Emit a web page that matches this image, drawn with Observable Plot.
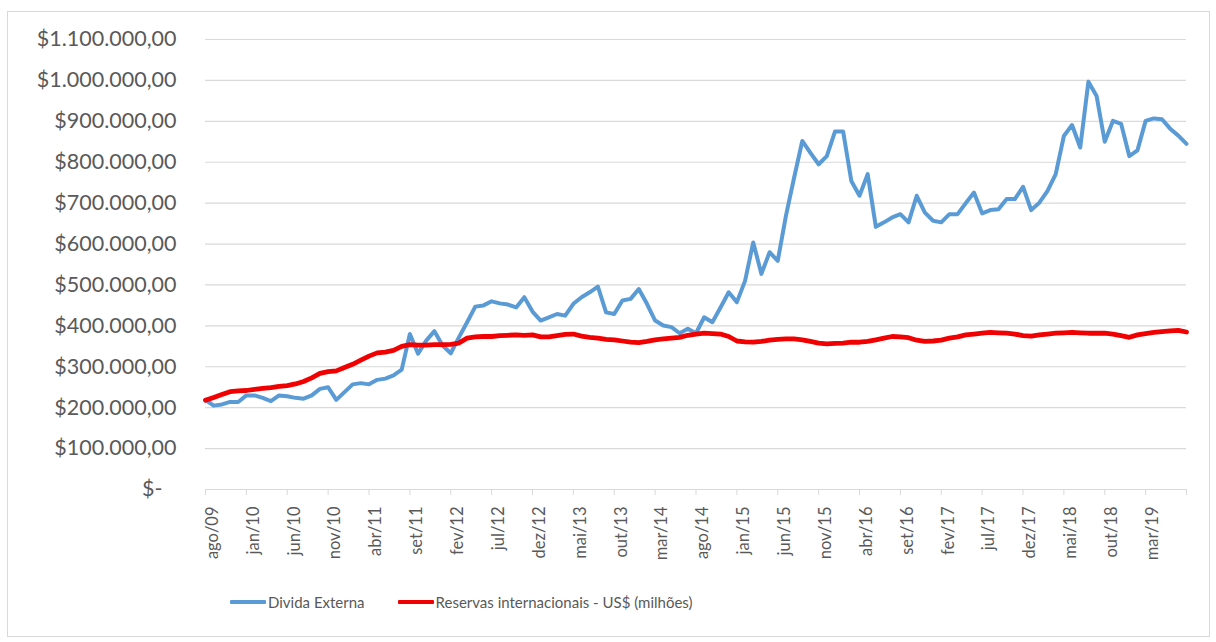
<!DOCTYPE html>
<html><head><meta charset="utf-8">
<script src="https://cdn.jsdelivr.net/npm/d3@7"></script>
<script src="https://cdn.jsdelivr.net/npm/@observablehq/plot@0.6"></script>
<style>
html,body{margin:0;padding:0;background:#fff;}
body{width:1216px;height:642px;position:relative;overflow:hidden;font-family:Lato,sans-serif;}
#frame{position:absolute;left:7px;top:11px;width:1203px;height:626px;border:1px solid #d9d9d9;box-sizing:border-box;}
#chart{position:absolute;left:0;top:0;}
#legend{position:absolute;left:230px;top:593px;display:flex;align-items:center;font-size:15px;color:#595959;white-space:nowrap;}
.item{display:flex;align-items:center;margin-right:33px;}
.sw{width:36px;height:4px;margin-right:2px;border-radius:1px;}
</style></head><body>
<div id="frame"></div>
<div id="chart"></div>
<div id="legend"></div>
<script>
const months = [
  "ago/09","set/09","out/09","nov/09","dez/09",
  "jan/10","fev/10","mar/10","abr/10","mai/10","jun/10","jul/10","ago/10","set/10","out/10","nov/10","dez/10",
  "jan/11","fev/11","mar/11","abr/11","mai/11","jun/11","jul/11","ago/11","set/11","out/11","nov/11","dez/11",
  "jan/12","fev/12","mar/12","abr/12","mai/12","jun/12","jul/12","ago/12","set/12","out/12","nov/12","dez/12",
  "jan/13","fev/13","mar/13","abr/13","mai/13","jun/13","jul/13","ago/13","set/13","out/13","nov/13","dez/13",
  "jan/14","fev/14","mar/14","abr/14","mai/14","jun/14","jul/14","ago/14","set/14","out/14","nov/14","dez/14",
  "jan/15","fev/15","mar/15","abr/15","mai/15","jun/15","jul/15","ago/15","set/15","out/15","nov/15","dez/15",
  "jan/16","fev/16","mar/16","abr/16","mai/16","jun/16","jul/16","ago/16","set/16","out/16","nov/16","dez/16",
  "jan/17","fev/17","mar/17","abr/17","mai/17","jun/17","jul/17","ago/17","set/17","out/17","nov/17","dez/17",
  "jan/18","fev/18","mar/18","abr/18","mai/18","jun/18","jul/18","ago/18","set/18","out/18","nov/18","dez/18",
  "jan/19","fev/19","mar/19","abr/19","mai/19","jun/19","jul/19","ago/19"
];

// Dívida Externa (valores em milhares)
const dividaExterna = [
  219,205,208,214,214,
  230,230,224,216,230,228,224,222,230,246,250,219,
  238,257,260,257,268,271,279,293,380,332,364,387,
  352,333,372,409,447,450,460,455,452,445,470,435,
  413,421,429,425,454,470,482,496,433,429,462,466,
  490,454,413,401,397,382,393,382,421,409,445,482,
  458,510,604,527,580,559,669,762,852,823,795,815,
  875,875,754,718,771,642,653,665,673,653,718,677,
  657,653,673,673,700,726,675,683,685,710,710,740,
  683,701,730,771,864,891,836,997,962,850,901,894,
  815,829,901,907,905,882,865,845
];

// Reservas internacionais - US$ (milhões), valores em milhares
const reservas = [
  218,225,232,239,241,
  242,245,247,249,252,254,258,264,273,284,288,290,
  298,306,316,326,334,336,340,350,354,353,353,354,
  354,355,358,370,373,374,374,376,377,378,377,378,
  373,373,376,379,380,375,372,370,367,366,363,360,
  359,362,366,368,370,372,377,380,382,381,380,374,
  363,361,360,362,365,367,368,368,366,362,358,356,
  357,358,360,360,362,366,370,374,373,371,365,362,
  363,365,370,373,378,380,382,384,383,382,380,376,
  375,378,380,382,383,384,383,382,382,382,380,376,
  372,378,381,384,386,388,389,385
];

const tickLabels = ["ago/09","jan/10","jun/10","nov/10","abr/11","set/11","fev/12","jul/12","dez/12","mai/13","out/13","mar/14","ago/14","jan/15","jun/15","nov/15","abr/16","set/16","fev/17","jul/17","dez/17","mai/18","out/18","mar/19"];
const yTicks = [0,100,200,300,400,500,600,700,800,900,1000,1100];
const yTickLabels = ["$-","$100.000,00","$200.000,00","$300.000,00","$400.000,00","$500.000,00","$600.000,00","$700.000,00","$800.000,00","$900.000,00","$1.000.000,00","$1.100.000,00"];
const seriesNames = ["Divida Externa","Reservas internacionais - US$ (milhões)"];
const seriesColors = ["#5b9bd5","#f00000"];

const data = months.map((m, i) => ({idx: i, month: m, divida: dividaExterna[i], reservas: reservas[i]}));
const labelIdx = tickLabels.map(l => months.indexOf(l));
const tickIdx = [...labelIdx, months.length - 1];

const chart = Plot.plot({
  width: 1216, height: 580,
  marginLeft: 205, marginRight: 30, marginTop: 39, marginBottom: 91,
  style: {fontFamily: "Lato, sans-serif", background: "transparent", overflow: "visible"},
  x: {domain: [0, months.length - 1], label: null},
  y: {domain: [0, 1100], label: null},
  marks: [
    Plot.ruleY(yTicks, {stroke: "#d9d9d9", strokeWidth: 1.2}),
    Plot.axisX(tickIdx, {tickSize: 6, stroke: "#d9d9d9", tickFormat: () => "", label: null}),
    Plot.axisX(labelIdx, {tickSize: 0, tickPadding: 17, tickRotate: -90, dx: 7, fontSize: 16.5, fill: "#595959", label: null,
      tickFormat: d => months[d]}),
    Plot.axisY(yTicks.slice(1), {tickSize: 0, tickPadding: 29, fontSize: 21.5, fill: "#595959", label: null,
      tickFormat: d => yTickLabels[yTicks.indexOf(d)]}),
    Plot.axisY([0], {tickSize: 0, tickPadding: 43, fontSize: 21.5, fill: "#595959", label: null,
      tickFormat: d => yTickLabels[yTicks.indexOf(d)]}),
    Plot.line(data, {x: "idx", y: "divida", stroke: seriesColors[0], strokeWidth: 4, strokeLinejoin: "round", strokeLinecap: "round"}),
    Plot.line(data, {x: "idx", y: "reservas", stroke: seriesColors[1], strokeWidth: 4.8, strokeLinejoin: "round", strokeLinecap: "round"})
  ]
});
document.getElementById("chart").appendChild(chart);

const legend = document.getElementById("legend");
seriesNames.forEach((name, i) => {
  const item = document.createElement("div");
  item.className = "item";
  const sw = document.createElement("div");
  sw.className = "sw";
  sw.style.background = seriesColors[i];
  const t = document.createElement("span");
  t.textContent = name;
  item.appendChild(sw);
  item.appendChild(t);
  legend.appendChild(item);
});
</script></body></html>
